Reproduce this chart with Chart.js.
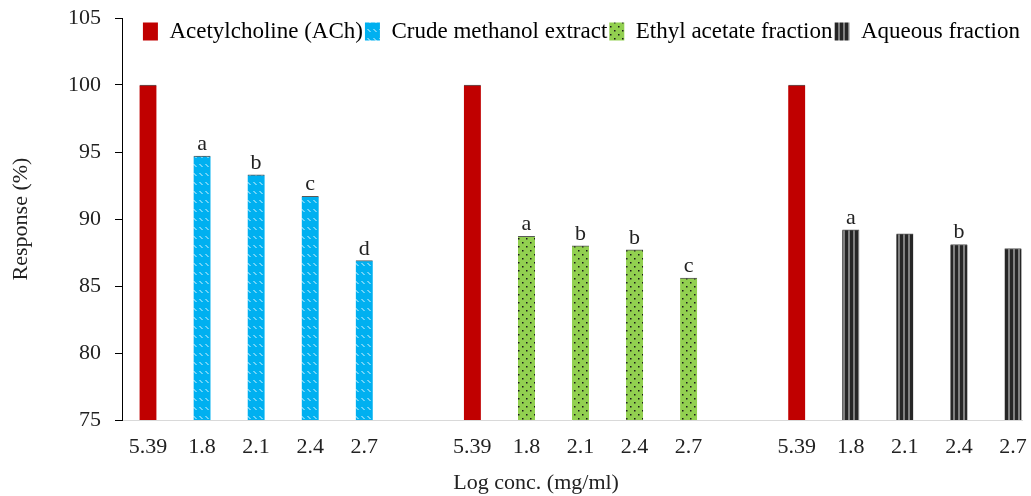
<!DOCTYPE html>
<html><head><meta charset="utf-8">
<script src="https://cdn.jsdelivr.net/npm/chart.js@4/dist/chart.umd.min.js"></script>
<style>html,body{margin:0;padding:0;background:#fff;overflow:hidden}</style>
</head><body><canvas id="c" width="1031" height="496"></canvas>
<script>
// ---- data ----
const concLabels = ['5.39', '1.8', '2.1', '2.4', '2.7'];
const seriesNames = ['Acetylcholine (ACh)', 'Crude methanol extract', 'Ethyl acetate fraction', 'Aqueous fraction'];
const achValues = [100, 100, 100];
const crudeValues = [94.7, 93.3, 91.7, 86.9];
const ethylValues = [88.7, 88.0, 87.7, 85.6];
const aqueousValues = [89.2, 88.9, 88.1, 87.8];
const crudeLetters = ['a', 'b', 'c', 'd'];
const ethylLetters = ['a', 'b', 'b', 'c'];
const aqueousLetters = ['a', '', 'b', ''];
const yAxisTitle = 'Response (%)';
const xAxisTitle = 'Log conc. (mg/ml)';

// ---- build slot table (5 bars per group, one empty slot between groups) ----
const groupSize = concLabels.length + 1;
const xTickLabels = [];
for (let g = 0; g < 3; g++) {
  concLabels.forEach(l => xTickLabels.push(l));
  if (g < 2) xTickLabels.push('');
}
const fractionSeries = [crudeValues, ethylValues, aqueousValues];
const letterSeries = [crudeLetters, ethylLetters, aqueousLetters];

const canvas = document.getElementById('c');
const ctx = canvas.getContext('2d');

function makePattern(w, h, draw) {
  const c = document.createElement('canvas');
  c.width = w; c.height = h;
  draw(c.getContext('2d'), w, h);
  return ctx.createPattern(c, 'repeat');
}
const bluePat = makePattern(6, 9, (x, w, h) => {
  x.fillStyle = '#00b0f0'; x.fillRect(0, 0, w, h);
  x.strokeStyle = 'rgba(255,255,255,0.85)'; x.lineWidth = 1;
  x.beginPath(); x.moveTo(1.5, 2); x.lineTo(4.5, 5); x.stroke();
});
const greenPat = makePattern(8, 8, (x, w, h) => {
  x.fillStyle = '#92d050'; x.fillRect(0, 0, w, h);
  x.fillStyle = '#1a1a1a'; x.fillRect(2, 2, 1.5, 1.5); x.fillRect(6, 6, 1.5, 1.5);
});
const stripePat = makePattern(5, 4, (x, w, h) => {
  x.fillStyle = '#808080'; x.fillRect(0, 0, w, h);
  x.fillStyle = '#262626'; x.fillRect(0, 0, 3, h);
});

const fontFam = 'Liberation Serif';
const textCol = '#222';
const common = {
  grouped: false,
  barThickness: 17,
  borderColor: '#595959',
  borderWidth: {top: 1, left: 0, right: 0, bottom: 0}
};
const datasets = [
  Object.assign({label: seriesNames[0], backgroundColor: '#c00000',
    data: achValues.map((v, g) => ({x: g * groupSize, y: v}))}, common),
  Object.assign({label: seriesNames[1], backgroundColor: bluePat, letters: letterSeries[0],
    data: fractionSeries[0].map((v, k) => ({x: 0 * groupSize + 1 + k, y: v}))}, common),
  Object.assign({label: seriesNames[2], backgroundColor: greenPat, letters: letterSeries[1],
    data: fractionSeries[1].map((v, k) => ({x: 1 * groupSize + 1 + k, y: v}))}, common),
  Object.assign({label: seriesNames[3], backgroundColor: stripePat, letters: letterSeries[2],
    data: fractionSeries[2].map((v, k) => ({x: 2 * groupSize + 1 + k, y: v}))}, common)
];

// legend overlays the plot area: it takes no layout height but still draws
const legendNoSpace = {
  id: 'legendNoSpace',
  beforeLayout(chart) {
    const lg = chart.legend;
    if (lg && !lg._patched) {
      const origFit = lg.fit;
      lg.fit = function () { origFit.call(this); this._realHeight = this.height; this.height = 0; };
      const origDraw = lg.draw;
      lg.draw = function () {
        const b = this.bottom;
        this.bottom = this.top + (this._realHeight || 0);
        this.height = this._realHeight || 0;
        origDraw.call(this);
        this.bottom = b;
        this.height = 0;
      };
      lg._patched = true;
    }
  }
};
const letterPlugin = {
  id: 'letters',
  afterDatasetsDraw(chart) {
    const c = chart.ctx;
    c.save();
    c.font = '22px "' + fontFam + '"';
    c.fillStyle = textCol;
    c.textAlign = 'center';
    c.textBaseline = 'alphabetic';
    chart.data.datasets.forEach((ds, i) => {
      if (!ds.letters) return;
      chart.getDatasetMeta(i).data.forEach((el, j) => {
        const t = ds.letters[j];
        if (t) c.fillText(t, el.x, el.y - 6);
      });
    });
    c.restore();
  }
};
const xTitlePlugin = {
  id: 'xTitle',
  afterDraw(chart) {
    const c = chart.ctx;
    const xs = chart.scales.x;
    c.save();
    c.font = '22px "' + fontFam + '"';
    c.fillStyle = textCol;
    c.textAlign = 'center';
    c.textBaseline = 'middle';
    c.fillText(xAxisTitle, xs.getPixelForValue(7.18), xs.bottom - 13);
    c.restore();
  }
};

new Chart(ctx, {
  type: 'bar',
  data: {datasets},
  plugins: [legendNoSpace, letterPlugin, xTitlePlugin],
  options: {
    responsive: false,
    animation: false,
    devicePixelRatio: 1,
    layout: {padding: {top: 18, right: 9, left: 0, bottom: 0}},
    plugins: {
      tooltip: {enabled: false},
      legend: {
        position: 'top',
        align: 'end',
        labels: {
          font: {family: fontFam, size: 23},
          color: textCol,
          boxWidth: 15,
          boxHeight: 18,
          padding: 2,
          generateLabels: (chart) => chart.data.datasets.map((ds, i) => ({
            text: ds.label, fillStyle: ds.backgroundColor, strokeStyle: 'rgba(0,0,0,0)',
            lineWidth: 0, hidden: false, datasetIndex: i
          }))
        }
      }
    },
    scales: {
      x: {
        type: 'linear',
        bounds: 'data',
        offset: false,
        min: -0.481,
        max: 16.167,
        afterBuildTicks: (s) => { s.ticks = xTickLabels.map((_, i) => ({value: i})); },
        ticks: {
          autoSkip: false, maxRotation: 0, minRotation: 0,
          callback: (v, i) => xTickLabels[i],
          font: {family: fontFam, size: 22},
          color: textCol,
          padding: 14
        },
        grid: {display: false, drawTicks: false},
        border: {display: true, color: '#d9d9d9', width: 1},
        afterFit: (s) => { s.height = 76; s.paddingLeft = 0; s.paddingRight = 0; }
      },
      y: {
        min: 75, max: 105,
        ticks: {stepSize: 5, font: {family: fontFam, size: 22}, color: textCol, padding: 14},
        grid: {display: true, drawOnChartArea: false, drawTicks: true, tickLength: 7, color: '#000', lineWidth: 1},
        border: {display: true, color: '#000', width: 1},
        title: {display: true, text: yAxisTitle, font: {family: fontFam, size: 22}, color: textCol, padding: {top: 8, bottom: 0}},
        afterFit: (s) => { s.width = 122; s.paddingTop = 0; s.paddingBottom = 0; }
      }
    }
  }
});
</script>
</body></html>
